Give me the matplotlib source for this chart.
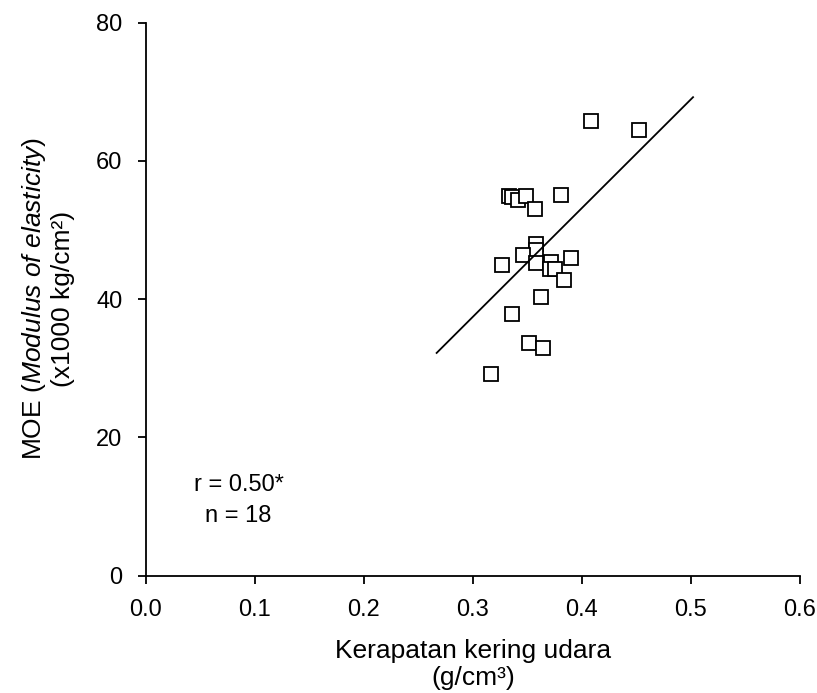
import numpy as np
import matplotlib
matplotlib.use("Agg")
import matplotlib.pyplot as plt

plt.rcParams['font.family'] = ['Liberation Sans', 'DejaVu Sans']
plt.rcParams['mathtext.fontset'] = 'custom'
plt.rcParams['mathtext.rm'] = 'Liberation Sans'
plt.rcParams['mathtext.it'] = 'Liberation Sans:italic'

# data
density = [0.408, 0.452, 0.333, 0.336, 0.3416, 0.349, 0.381, 0.357, 0.358, 0.358,
           0.3456, 0.3266, 0.3575, 0.372, 0.3706, 0.375, 0.390, 0.384, 0.3624,
           0.336, 0.3517, 0.3645, 0.3165]
moe = [65.7, 64.4, 54.9, 54.7, 54.3, 54.9, 55.1, 53.0, 48.0, 47.1,
       46.3, 44.9, 45.2, 45.3, 44.4, 44.4, 46.0, 42.7, 40.3,
       37.8, 33.7, 32.9, 29.2]

# regression line end points
fit_x = [0.2667, 0.502]
fit_y = [32.2, 69.2]

fig = plt.figure(figsize=(8.17, 6.93), dpi=100)
ax = fig.add_axes([0.1787, 0.1695, 0.8003, 0.798])

ax.plot(density, moe, linestyle='none', marker='s', markersize=10,
        markerfacecolor='white', markeredgecolor='black', markeredgewidth=1.3)
ax.plot(fit_x, fit_y, color='black', linewidth=1.3)

ax.set_xlim(0, 0.6)
ax.set_ylim(0, 80)
ax.set_xticks(np.arange(0, 0.61, 0.1))
ax.set_xticklabels([f"{v:.1f}" for v in np.arange(0, 0.61, 0.1)])
ax.set_yticks([0, 20, 40, 60, 80])

for s in ['top', 'right']:
    ax.spines[s].set_visible(False)
for s in ['left', 'bottom']:
    ax.spines[s].set_linewidth(1.3)
ax.tick_params(direction='out', length=6, width=1.3, labelsize=17, pad=11)

ax.set_xlabel('Kerapatan kering udara\n(g/cm³)', fontsize=19, linespacing=1.15, labelpad=13)
ax.set_ylabel('MOE ($\\it{Modulus\\ of\\ elasticity}$)\n(x1000 kg/cm²)', fontsize=19,
              linespacing=1.15, labelpad=15)

ax.text(0.085, 13.1, 'r = 0.50*', fontsize=17, ha='center', va='center')
ax.text(0.085, 8.6, 'n = 18', fontsize=17, ha='center', va='center')

fig.savefig('out.png', dpi=100)
